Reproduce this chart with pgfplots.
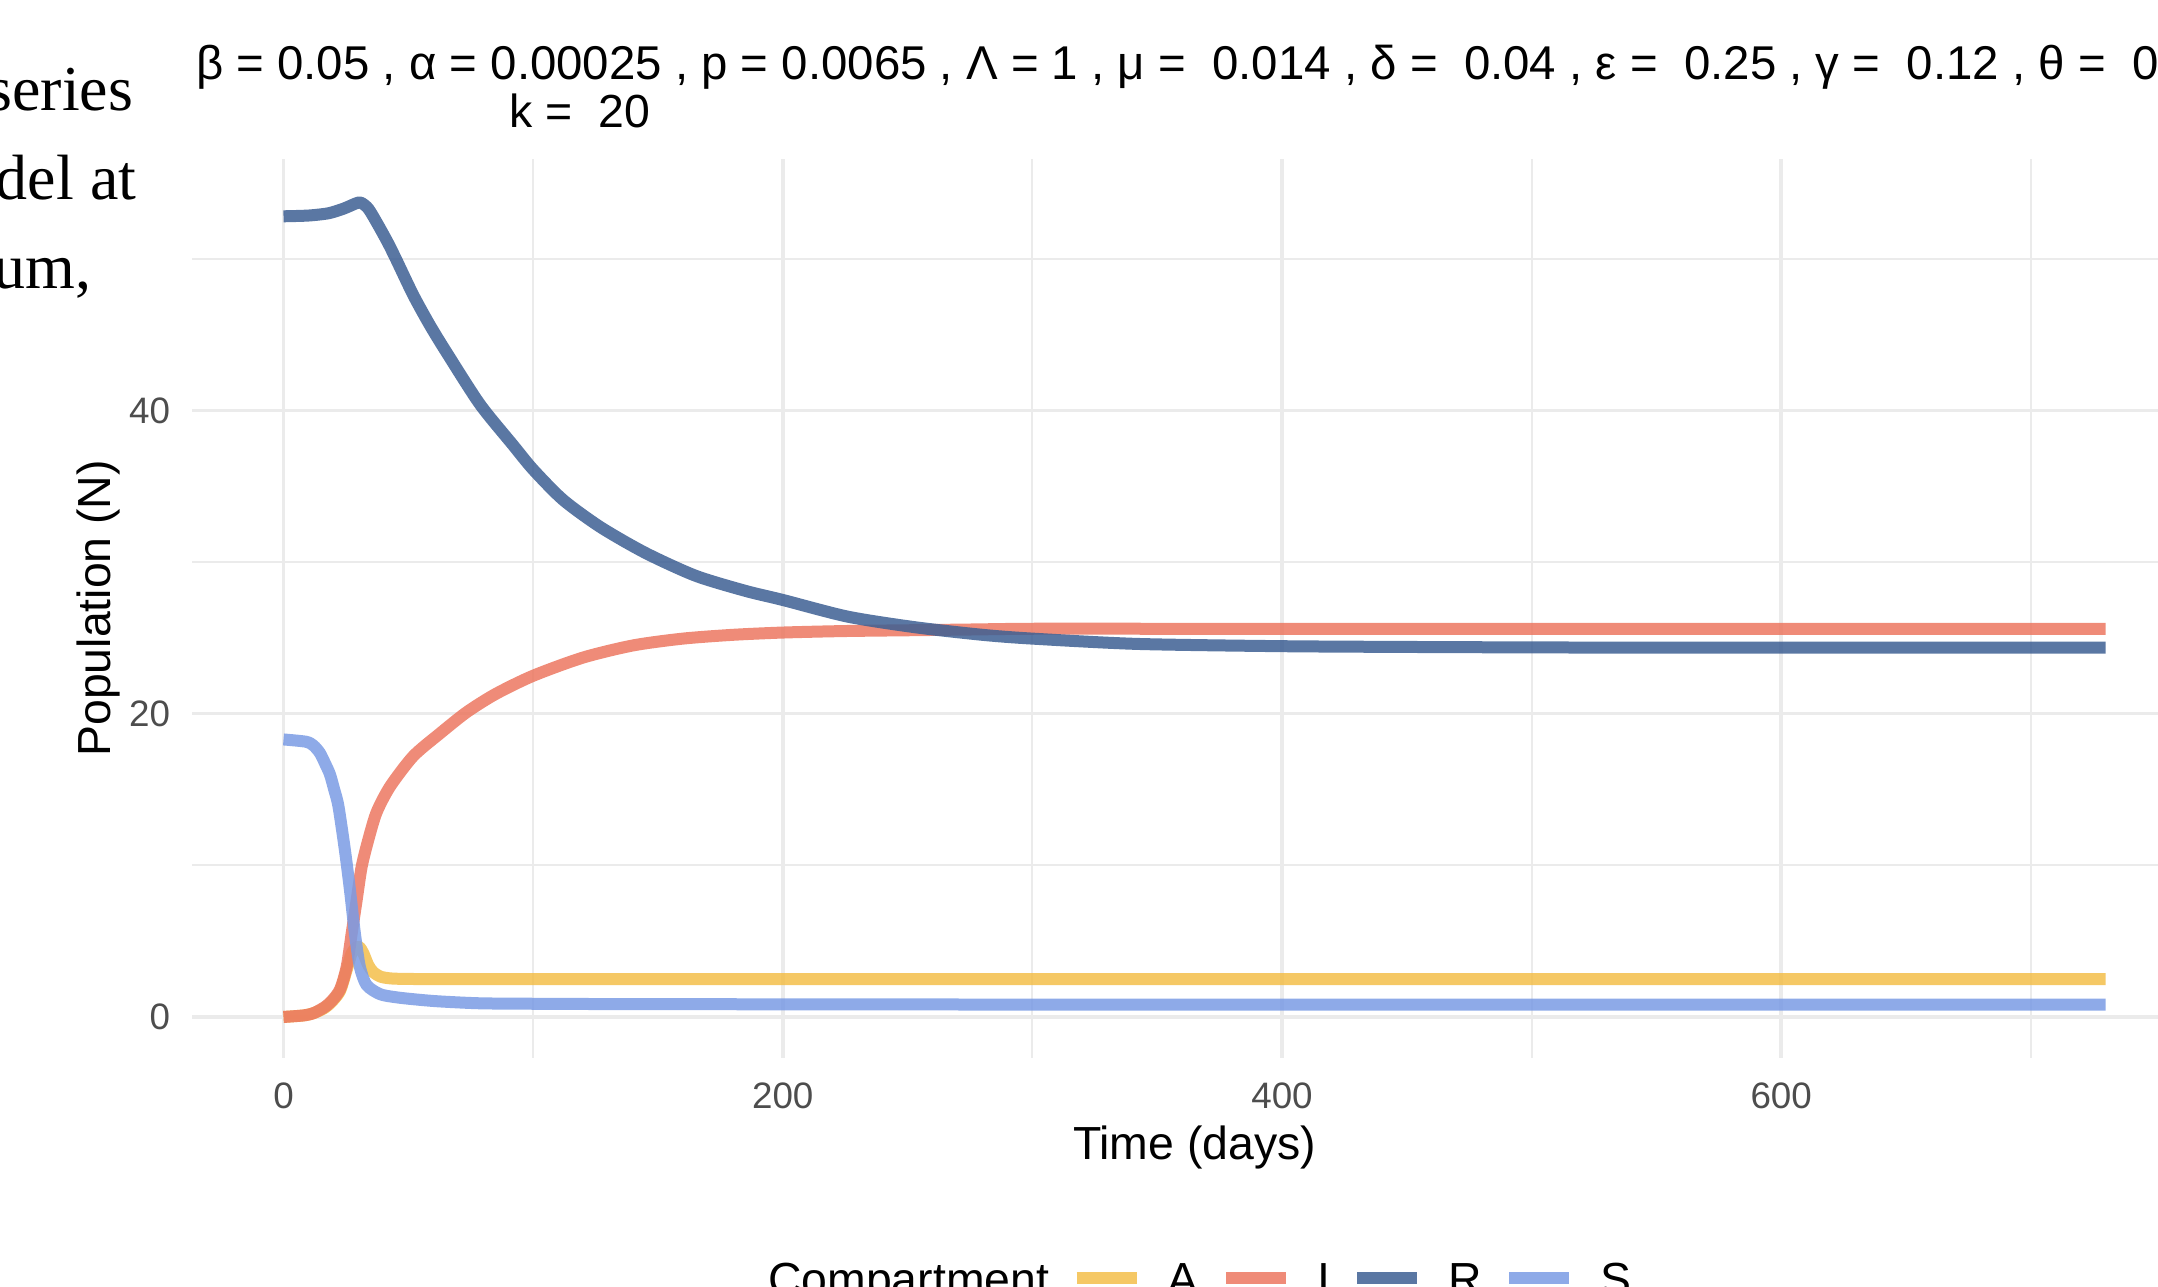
\documentclass[border=0pt]{standalone}
\usepackage{fontspec}
\setmainfont{Liberation Sans}
\newfontfamily\sidefont{Liberation Serif}
\usepackage{pgfplots}
\pgfplotsset{compat=1.18}
\definecolor{gridgray}{HTML}{EBEBEB}
\definecolor{tickgray}{HTML}{4D4D4D}
\definecolor{colA}{HTML}{F3BE4A}
\definecolor{colI}{HTML}{EC7760}
\definecolor{colR}{HTML}{3D5F93}
\definecolor{colS}{HTML}{7A9BE4}

% time (days), population
\pgfplotstableread{
t v
0 0
8 0.1
12 0.25
16 0.55
19 0.95
22.6 1.7
25.3 3.1
27.3 4.2
29.3 4.6
30.5 4.6
32 4.2
34 3.4
36 2.95
39 2.65
43 2.54
48 2.51
55 2.5
65 2.5
80 2.5
100 2.5
130 2.5
170 2.5
220 2.5
280 2.5
350 2.5
420 2.5
490 2.5
560 2.5
630 2.5
690 2.5
730 2.5
}\tabA
\pgfplotstableread{
t v
0 0
8 0.1
12 0.25
16 0.6
19 1.0
22.6 1.8
25.3 3.3
27.3 5.5
29.3 7.7
31.3 9.9
34 11.7
37.3 13.5
42.7 15.2
52 17.2
62.7 18.7
73.4 20.1
85 21.3
100 22.5
120 23.7
140 24.5
160 24.95
180 25.2
200 25.35
225 25.45
250 25.5
275 25.55
300 25.6
350 25.6
420 25.6
490 25.6
560 25.6
630 25.6
690 25.6
730 25.6
}\tabI
\pgfplotstableread{
t v
0 52.8
10 52.85
18 53.0
24 53.3
29 53.65
31 53.7
34 53.3
38 52.2
42 51.0
45.3 49.9
52 47.6
58.7 45.6
65.4 43.8
78.7 40.4
92 37.7
100 36.1
112 34.1
127 32.3
145 30.6
165 29.1
185 28.1
200 27.5
226 26.4
253 25.7
280 25.2
300 24.95
342 24.6
400 24.45
450 24.4
500 24.37
560 24.35
630 24.35
690 24.35
730 24.35
}\tabR
\pgfplotstableread{
t v
0 18.3
9 18.15
12 17.9
14.6 17.4
16.7 16.7
18.6 16.0
20.3 15.0
22 13.9
24.6 11.0
26.6 8.4
28.6 5.5
30.6 3.3
33.3 2.1
38.7 1.5
45 1.3
52 1.17
62 1.03
78.7 0.9
100 0.87
130 0.85
170 0.84
220 0.83
280 0.82
350 0.82
420 0.82
490 0.82
560 0.82
630 0.82
690 0.82
730 0.82
}\tabS

\begin{document}
\begin{tikzpicture}
\useasboundingbox (0,0) rectangle (539.5pt,321.5pt);
\clip (0,0) rectangle (539.5pt,321.5pt);

% cropped text of the surrounding page
\node[anchor=base east, inner sep=0pt, font=\sidefont\fontsize{16}{19}\selectfont] at (33.5pt,293.75pt) {series};
\node[anchor=base east, inner sep=0pt, font=\sidefont\fontsize{16}{19}\selectfont] at (34.25pt,271.5pt) {del at};
\node[anchor=base east, inner sep=0pt, font=\sidefont\fontsize{16}{19}\selectfont] at (23pt,249.25pt) {um,};

% title, two lines
\node[anchor=base west, inner sep=0pt, font=\fontsize{11.85}{14}\selectfont] at (48.85pt,301.5pt)
  {β = 0.05 , α = 0.00025 , p = 0.0065 , Λ = 1 , μ = \ 0.014 , δ = \ 0.04 , ε = \ 0.25 , γ = \ 0.12 , θ = \ 0};
\node[anchor=base west, inner sep=0pt, font=\fontsize{11.6}{14}\selectfont] at (127.25pt,289.5pt) {k = \ 20};

\begin{axis}[
  at={(48.1pt,57.03pt)}, anchor=south west,
  scale only axis, width=501.1pt, height=224.8pt,
  xmin=-36.5, xmax=766.5, ymin=-2.7, ymax=56.6,
  xtick={0,200,400,600}, ytick={0,20,40},
  minor xtick={100,300,500,700}, minor ytick={10,30,50},
  grid=both,
  major grid style={draw=gridgray, line width=0.9pt},
  minor grid style={draw=gridgray, line width=0.5pt},
  axis line style={draw=none}, tick style={draw=none},
  /pgf/number format/assume math mode=true,
  ticklabel style={font=\fontsize{9.2}{11}\selectfont, text=tickgray, inner sep=0pt},
  xticklabel style={anchor=north, yshift=-6pt},
  yticklabel style={anchor=east, xshift=-5.4pt},
  xlabel={Time (days)}, ylabel={Population (N)},
  label style={font=\fontsize{11.6}{14}\selectfont, inner sep=0pt},
  xlabel style={at={(axis description cs:0.5,-0.1125)}, anchor=base},
  ylabel style={at={(axis description cs:-0.0411,0.5)}, anchor=base},
  every axis plot/.append style={line width=3pt, opacity=0.85, line join=round, smooth, tension=0.45},
  legend image code/.code={\draw[#1, sharp plot] (0pt,4.2pt) -- (15pt,4.2pt);},
  legend columns=-1,
  legend style={at={(axis description cs:0.2747,-0.2492)}, anchor=west,
    draw=none, fill=none, inner sep=0pt, outer sep=0pt,
    font=\fontsize{11.6}{14}\selectfont,
    nodes={inner sep=0pt, anchor=base west},
    /tikz/every odd column/.append style={column sep=6.3pt},
    /tikz/every even column/.append style={column sep=5.3pt}},
]
\addlegendimage{empty legend}
\addlegendentry{Compartment}
\addplot[colA] table[x=t,y=v] {\tabA};
\addlegendentry{A}
\addplot[colI] table[x=t,y=v] {\tabI};
\addlegendentry{I}
\addplot[colR] table[x=t,y=v] {\tabR};
\addlegendentry{R}
\addplot[colS] table[x=t,y=v] {\tabS};
\addlegendentry{S}
\end{axis}
\end{tikzpicture}
\end{document}
